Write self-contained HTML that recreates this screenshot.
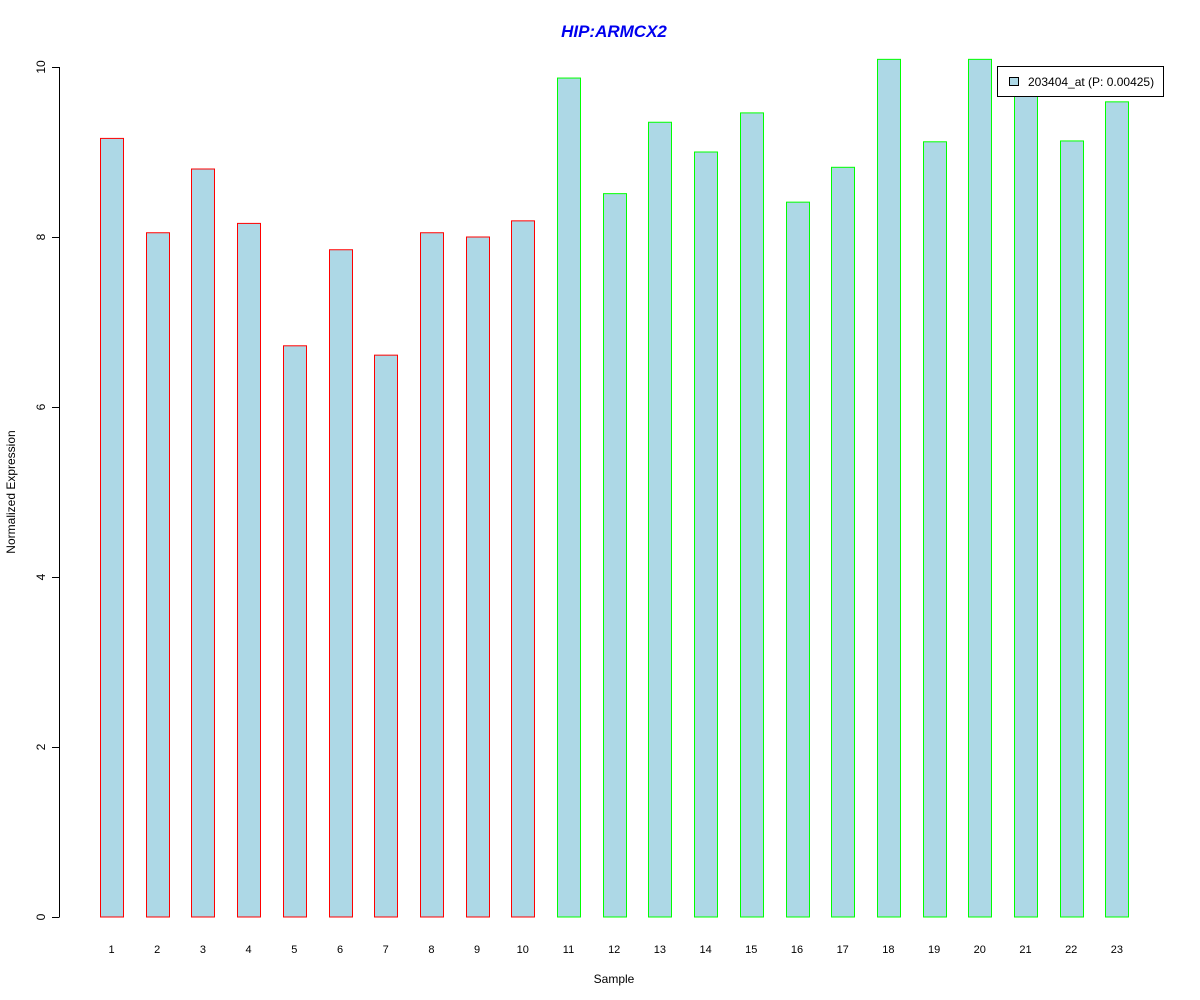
<!DOCTYPE html>
<html><head><meta charset="utf-8"><style>
body{margin:0;background:#fff;}
svg{display:block;font-family:"Liberation Sans",Arial,sans-serif;}
</style></head><body>
<svg id="chart" width="1200" height="1000">
<text x="614" y="37" text-anchor="middle" font-size="17" font-weight="bold" font-style="italic" fill="#0000ee">HIP:ARMCX2</text>
<text x="614" y="983" text-anchor="middle" font-size="12">Sample</text>
<text transform="translate(15,492) rotate(-90)" text-anchor="middle" font-size="12">Normalized Expression</text>
<g id="yaxis"></g>
<g id="bars"></g>
<g id="xlabels"></g>
<g>
<rect x="997.5" y="66.5" width="166" height="30" fill="#fff" stroke="#000"/>
<rect x="1009.5" y="77.5" width="9" height="8" fill="#add8e6" stroke="#000"/>
<text x="1028" y="86" font-size="12">203404_at (P: 0.00425)</text>
</g>
</svg>
<script>
const categories=["1","2","3","4","5","6","7","8","9","10","11","12","13","14","15","16","17","18","19","20","21","22","23"];
const values=[9.16,8.05,8.8,8.16,6.72,7.85,6.61,8.05,8.0,8.19,9.87,8.51,9.35,9.0,9.46,8.41,8.82,10.09,9.12,10.09,9.75,9.13,9.59];
const groups=["a","a","a","a","a","a","a","a","a","a","b","b","b","b","b","b","b","b","b","b","b","b","b"];
const yTicks=[0,2,4,6,8,10];
const NS="http://www.w3.org/2000/svg";
const y=v=>917-v*85;
const x=i=>111.5+i*45.7;
const ya=document.getElementById('yaxis');
function mk(tag,attrs,parent){const e=document.createElementNS(NS,tag);for(const k in attrs)e.setAttribute(k,attrs[k]);parent.appendChild(e);return e;}
const al=mk('line',{x1:59.5,x2:59.5,y1:y(0),y2:y(10),stroke:'#000'},ya);


yTicks.forEach(t=>{
 const l=mk('line',{x1:52,x2:59.5,y1:Math.round(y(t))+0.5,y2:Math.round(y(t))+0.5,stroke:'#000'},ya);
 
 
 const tx=mk('text',{transform:`translate(45,${y(t)}) rotate(-90)`,'text-anchor':'middle','font-size':12},ya);
 tx.textContent=t;
 
 
});
const bg=document.getElementById('bars'),xl=document.getElementById('xlabels');
values.forEach((v,i)=>{
 const r=mk('rect',{x:Math.round(x(i)-11.5)+0.5,y:y(v),width:23,height:y(0)-y(v),fill:'#add8e6',stroke:groups[i]==='a'?'#ff0000':'#00ff00'},bg);
 
 
 const t=mk('text',{x:x(i),y:953,'text-anchor':'middle','font-size':11},xl);
 t.textContent=categories[i];
 
 
});
</script>
</body></html>
